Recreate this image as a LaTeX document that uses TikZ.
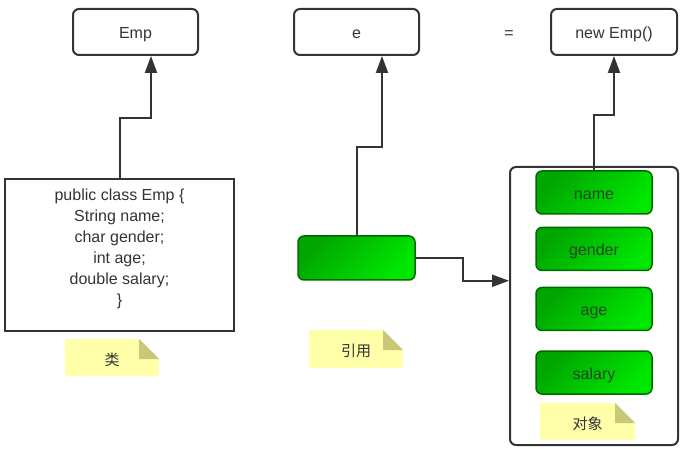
\documentclass[tikz,border=0pt]{standalone}
\usepackage{fontspec}
\setmainfont{Liberation Sans}
\newfontfamily\cjk{Noto Sans CJK SC}
\usetikzlibrary{calc,positioning,arrows.meta}
\definecolor{linegray}{RGB}{51,51,51}
\definecolor{greentop}{RGB}{0,165,0}
\definecolor{greenbot}{RGB}{0,232,0}
\definecolor{greenline}{RGB}{0,105,0}
\definecolor{greentext}{RGB}{35,70,35}
\definecolor{notefill}{RGB}{255,255,170}
\definecolor{notefold}{RGB}{200,200,120}
\tikzset{
    topbox/.style={draw=linegray, line width=2pt, rounded corners=6pt, minimum width=125pt, minimum height=46pt, text=linegray, text height=14pt, text depth=0pt},
    classbox/.style={draw=linegray, line width=2pt, minimum width=229pt, minimum height=152pt},
    classtext/.style={align=center, text=linegray, font=\fontsize{16}{21}\selectfont, inner sep=0pt},
    objbox/.style={draw=linegray, line width=2pt, rounded corners=6pt, minimum width=168pt, minimum height=278pt},
    field/.style={draw=greenline, line width=1.5pt, rounded corners=6pt, top color=greentop, bottom color=greenbot, shading angle=45, minimum width=116pt, minimum height=43pt, text=greentext, text height=14pt, text depth=0pt},
    note/.style={minimum width=94pt, minimum height=37pt, text=linegray, font=\cjk\fontsize{15}{18}\selectfont, text height=15.4pt, text depth=0pt,
        path picture={
            \fill[notefill] (path picture bounding box.south west) rectangle (path picture bounding box.north east);
            \fill[white] ($(path picture bounding box.north east)+(-20pt,0pt)$) -- (path picture bounding box.north east) -- ($(path picture bounding box.north east)+(0pt,-20pt)$) -- cycle;
            \fill[notefold] ($(path picture bounding box.north east)+(-20pt,0pt)$) -- ($(path picture bounding box.north east)+(0pt,-20pt)$) -- ($(path picture bounding box.north east)+(-20pt,-20pt)$) -- cycle;
        }},
    link/.style={draw=linegray, line width=2pt, -{Triangle[length=17pt, width=12pt]}}
}

\begin{document}
\begin{tikzpicture}[x=1pt, y=-1pt, font=\fontsize{16}{19}\selectfont]
    \useasboundingbox (0,0) rectangle (694,449);
    % Nodes
    \node[topbox] (Emp) at (135.5,32) {Emp};
    \node[topbox] (e) at (356.5,32) {e};
    \node[text=linegray, text height=14pt, text depth=0pt] (eq) at (509,32) {=};
    \node[topbox, minimum width=126pt] (newemp) at (614,32) {new Emp()};

    \node[classbox] (cls) at (119.5,255) {};
    \node[classtext, below=10.5pt of cls.north] (clstext) {public class Emp \{\\String name;\\char gender;\\int age;\\double salary;\\\}};
    \node[note] (noteclass) at (112,357.5) {类};

    \node[field, minimum width=117pt, minimum height=44pt] (ref) at (356.5,258) {};
    \node[note, minimum height=38pt] (noteref) at (356,349) {引用};

    \node[objbox] (obj) at (594,306) {};
    \node[field] (name) at (594,192.5) {name};
    \node[field] (gender) at (594,249) {gender};
    \node[field] (age) at (594,309) {age};
    \node[field] (salary) at (594,372.5) {salary};
    \node[note, minimum width=95pt] (noteobj) at (587.5,421.5) {对象};

    % edges
    \draw[link] (cls.north) |- ($(Emp.south)+(15.5,62)$) -- ([xshift=15.5pt]Emp.south);
    \draw[link] (ref.north) |- ($(e.south)+(25.5,91)$) -- ([xshift=25.5pt]e.south);
    \draw[link] (name.north) |- ($(newemp.south)+(0,59)$) -- (newemp.south);
    \draw[link] (ref.east) -- ++(47,0) |- (obj.west |- ref.south);
\end{tikzpicture}
\end{document}
